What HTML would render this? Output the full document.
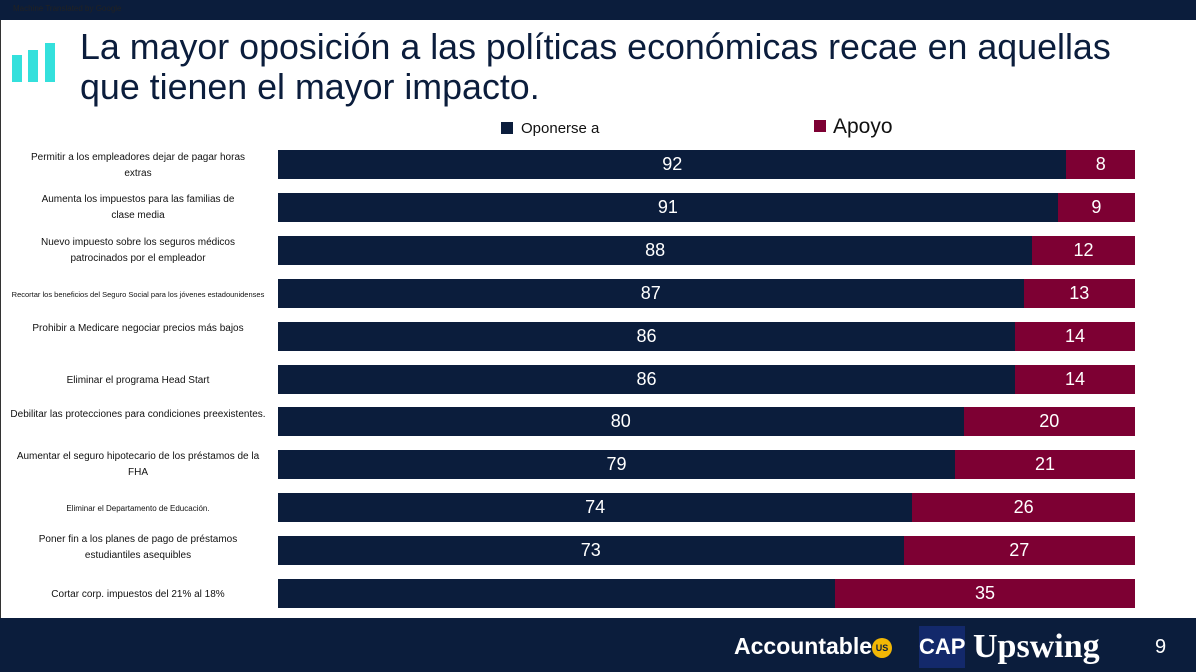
<!DOCTYPE html>
<html><head><meta charset="utf-8"><style>
body{margin:0;width:1196px;height:672px;overflow:hidden;background:#fff;font-family:"Liberation Sans",sans-serif;position:relative}
.abs{position:absolute}
.lbl{position:absolute;left:4px;width:268px;font-size:10px;color:#111;text-align:center;line-height:16px;white-space:pre-line}
</style></head><body>
<div class="abs" style="left:0;top:0;width:1196px;height:20px;background:#0b1d3c"><span style="font-size:8px;color:#222;position:absolute;left:13px;top:4px">Machine Translated by Google</span></div>
<div class="abs" style="left:0;top:20px;width:1px;height:600px;background:#333"></div>
<svg class="abs" style="left:12px;top:42px" width="46" height="40"><rect x="0" y="13" width="10" height="27" fill="#34e0dc"/><rect x="16" y="8" width="10" height="32" fill="#34e0dc"/><rect x="33" y="1" width="10" height="39" fill="#34e0dc"/></svg>
<div class="abs" style="left:80px;top:27px;font-size:35.8px;line-height:40px;color:#0b1d3c">La mayor oposición a las políticas económicas recae en aquellas<br>que tienen el mayor impacto.</div>
<div class="abs" style="left:501px;top:120px;font-size:15px;color:#111"><span style="display:inline-block;width:12px;height:12px;background:#0b1d3c;margin-right:8px;vertical-align:-1px"></span>Oponerse a</div>
<div class="abs" style="left:814px;top:115px;font-size:21px;color:#111"><span style="display:inline-block;width:12px;height:12px;background:#7d0033;margin-right:7px;vertical-align:1px"></span>Apoyo</div>
<div id="chart"></div>
<div class="abs" style="left:0;top:618px;width:1196px;height:54px;background:#0b1d3c">
<div class="abs" style="left:734px;top:15px;font-size:23px;font-weight:bold;color:#fff">Accountable<span style="display:inline-block;background:#f2b705;color:#0b1d3c;font-size:9px;border-radius:50%;width:20px;height:20px;line-height:20px;text-align:center;vertical-align:3px">US</span></div>
<div class="abs" style="left:919px;top:8px;width:46px;height:42px;background:#13296b;color:#fff;font-weight:bold;font-size:22px;text-align:center;line-height:42px">CAP</div>
<div class="abs" style="left:973px;top:10px;font-family:'Liberation Serif',serif;font-weight:bold;font-size:34px;color:#fff">Upswing</div>
<div class="abs" style="left:1155px;top:18px;font-size:20px;color:#fff">9</div>
</div>
<script>
const categories=["Permitir a los empleadores dejar de pagar horas\nextras","Aumenta los impuestos para las familias de\nclase media","Nuevo impuesto sobre los seguros médicos\n     patrocinados por el empleador","Recortar los beneficios del Seguro Social para los jóvenes estadounidenses","Prohibir a Medicare negociar precios más bajos","Eliminar el programa Head Start","Debilitar las protecciones para condiciones preexistentes.","Aumentar el seguro hipotecario de los préstamos de la\nFHA","Eliminar el Departamento de Educación.","Poner fin a los planes de pago de préstamos\nestudiantiles asequibles","Cortar corp. impuestos del 21% al 18%"];
const oppose=[92,91,88,87,86,86,80,79,74,73,65];
const support=[8,9,12,13,14,14,20,21,26,27,35];
const x0=278,W=857,y0=150,step=42.9,bh=29;
const xs=v=>v/100*W;
const offs=[0,-1,-1,8,-1,8,0,-1,8,-4,8];
const c=document.getElementById('chart');
categories.forEach((cat,i)=>{
 const y=y0+i*step;
 const l=document.createElement('div');l.className='lbl';l.textContent=cat;
 l.style.top=(y+offs[i])+'px';
 if(i==3){l.style.fontSize='7.5px';}
 if(i==8){l.style.fontSize='8px';}
 
 
 c.appendChild(l);
 const a=document.createElement('div');a.className='abs';
 a.style.cssText=`left:${x0}px;top:${y}px;width:${xs(oppose[i])}px;height:${bh}px;background:#0b1d3c;color:#fff;font-size:18px;text-align:center;line-height:${bh}px`;
 a.textContent=i==10?'':oppose[i];
 
 
 c.appendChild(a);
 const b=document.createElement('div');b.className='abs';
 b.style.cssText=`left:${x0+xs(oppose[i])}px;top:${y}px;width:${xs(support[i])}px;height:${bh}px;background:#7d0033;color:#fff;font-size:18px;text-align:center;line-height:${bh}px`;
 b.textContent=support[i];
 
 
 c.appendChild(b);
});
</script>
</body></html>
